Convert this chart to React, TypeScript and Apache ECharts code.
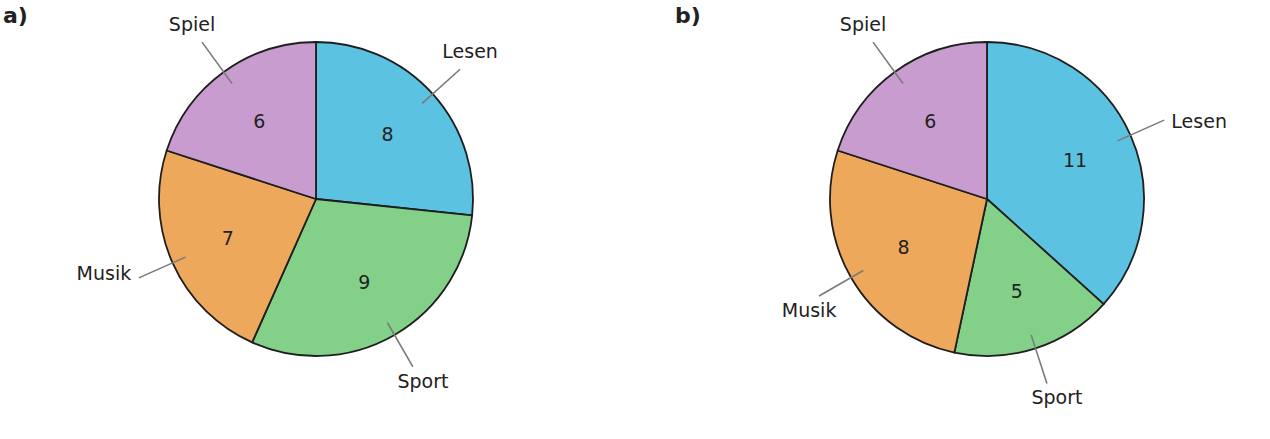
import React, { useEffect, useRef } from "react";
import * as echarts from "echarts";

const categories = ["Lesen", "Sport", "Musik", "Spiel"];
const valuesA = [8, 9, 7, 6];
const valuesB = [11, 5, 8, 6];
const panelLabels = ["a)", "b)"];
const colors = ["#5bc2e1", "#83d089", "#eda85c", "#c99cd0"];

const FONT = "DejaVu Sans";
const R = 157;
const CENTERS: number[][] = [
  [316, 199],
  [987, 199],
];
const TITLE_LEFT = [3, 675];

function midAngles(values: number[]): number[] {
  const total = values.reduce((s, v) => s + v, 0);
  let acc = 0;
  return values.map((v) => {
    const m = ((acc + v / 2) / total) * 360;
    acc += v;
    return m;
  });
}

function buildSeries(values: number[], center: number[]): any[] {
  const data = categories.map((name, i) => ({
    name,
    value: values[i],
    itemStyle: { color: colors[i] },
  }));
  const clearData = categories.map((name, i) => ({
    name,
    value: values[i],
  }));
  const mids = midAngles(values);
  const [cx, cy] = center;
  return [
    {
      type: "pie",
      center,
      radius: R,
      startAngle: 90,
      clockwise: true,
      silent: true,
      avoidLabelOverlap: false,
      label: { show: false },
      labelLine: { show: false },
      itemStyle: { borderColor: "#1e1e1e", borderWidth: 1.8 },
      emphasis: { disabled: true },
      data,
      z: 2,
    },
    {
      type: "pie",
      center,
      radius: [0, R * 1.19],
      startAngle: 90,
      clockwise: true,
      silent: true,
      avoidLabelOverlap: false,
      itemStyle: { color: "rgba(0,0,0,0)", borderWidth: 0 },
      label: {
        show: true,
        position: "inside",
        formatter: "{c}",
        color: "#222",
        fontSize: 19,
        fontFamily: FONT,
      },
      labelLine: { show: false },
      emphasis: { disabled: true },
      data: clearData,
      z: 4,
    },
    {
      type: "pie",
      center,
      radius: R * 0.91,
      startAngle: 90,
      clockwise: true,
      silent: true,
      avoidLabelOverlap: false,
      itemStyle: { color: "rgba(0,0,0,0)", borderWidth: 0 },
      label: {
        show: true,
        position: "outside",
        formatter: "{b}",
        color: "#222",
        fontSize: 19,
        fontFamily: FONT,
      },
      labelLine: {
        show: true,
        length: R * 0.33,
        length2: 1,
        lineStyle: { color: "#7a7a7a", width: 1.6 },
      },
      labelLayout: (params: any) => {
        const th = (mids[params.dataIndex] * Math.PI) / 180;
        const dx = Math.sin(th);
        const dy = -Math.cos(th);
        const p1 = [cx + dx * R * 0.91, cy + dy * R * 0.91];
        const p2 = [cx + dx * R * 1.235, cy + dy * R * 1.235];
        let tx: number;
        let ty: number;
        if (Math.abs(dx) > 0.9) {
          tx = p2[0] + Math.sign(dx) * 35;
          ty = p2[1] - 2 - Math.sign(dy) * 3;
        } else {
          tx = p2[0] + Math.sign(dx) * 10;
          ty = p2[1] + (dy < 0 ? -18 : 14);
        }
        return {
          x: tx,
          y: ty,
          align: "center",
          verticalAlign: "middle",
          labelLinePoints: [p1, p2],
        };
      },
      emphasis: { disabled: true },
      data: clearData,
      z: 3,
    },
  ];
}

export default function App() {
  const ref = useRef<HTMLDivElement>(null);
  useEffect(() => {
    if (!ref.current) return;
    const chart = echarts.init(ref.current, undefined, { renderer: "svg" });
    const option: any = {
      animation: false,
      backgroundColor: "#ffffff",
      title: panelLabels.map((t, i) => ({
        text: t,
        left: TITLE_LEFT[i],
        top: 4,
        padding: 0,
        textStyle: {
          fontFamily: FONT,
          fontWeight: "bold",
          fontSize: 22,
          color: "#222",
        },
      })),
      series: [...buildSeries(valuesA, CENTERS[0]), ...buildSeries(valuesB, CENTERS[1])],
    };
    chart.setOption(option);
    return () => chart.dispose();
  }, []);
  return (
    <div
      ref={ref}
      style={{ position: "fixed", left: 0, top: 0, width: 1270, height: 439, background: "#fff" }}
    />
  );
}
